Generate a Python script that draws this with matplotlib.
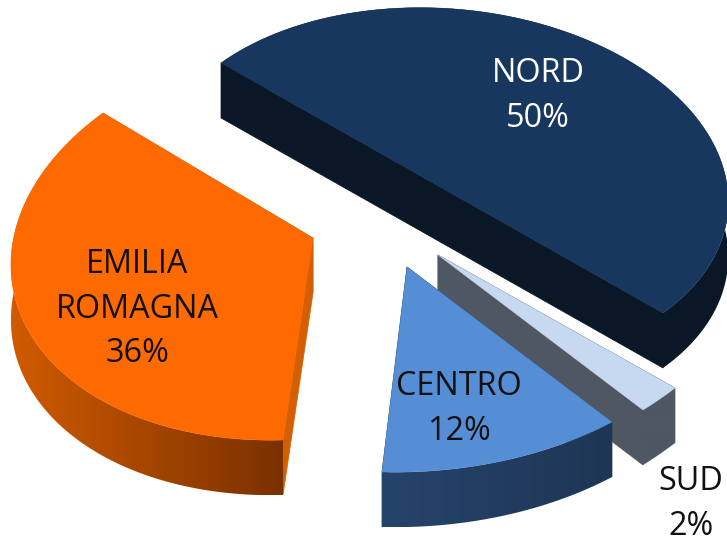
import numpy as np
import matplotlib
matplotlib.use("Agg")
import matplotlib.pyplot as plt
from matplotlib.colors import to_rgb
from matplotlib.patches import Polygon

# --- data -----------------------------------------------------------------
categories = ["NORD", "SUD", "CENTRO", "EMILIA\nROMAGNA"]
shares = [50, 2, 12, 36]

# --- style / layout (pixel geometry of each exploded slice) -----------------
W, H = 727, 545
DEPTH = 55
apex = [(442, 188), (438, 255), (407, 267), (313, 238)]
edge_start = [(-221, -125), (237, 133), (205, 155), (-30, 202)]
edge_end = [(221, 125), (205, 155), (-25, 205), (-210, -125)]
mid_half = (182, -130)  # conjugate radius, needed only by the half-disc slice
bulge = [0.0, 0.0, 0.0, 0.012]
top_col = ["#17375E", "#C6D9F1", "#558ED5", "#FF6A00"]
inner_col = ["#0A1726", "#4F5763", "#1F3555", "#D45F00"]
grad_left = ["#0A1726", "#4F5763", "#25446C", "#D05B00"]
grad_right = ["#0A1726", "#4F5763", "#1F3555", "#7A3000"]
text_col = ["white", "#111111", "#111111", "#111111"]
label_xy = [(538, 96), (691, 504), (459, 409), (137, 309)]

plt.rcParams["font.family"] = ["Open Sans", "DejaVu Sans"]
fig = plt.figure(figsize=(W / 100, H / 100), dpi=100)
ax = fig.add_axes([0, 0, 1, 1])


def arc(es, ee, span_deg, b):
    es, ee = np.array(es, float), np.array(ee, float)
    s = np.radians(span_deg)
    t = np.linspace(0, s, 200)[:, None]
    if abs(span_deg - 180) < 1e-6:
        p = es * np.cos(t) + np.array(mid_half, float) * np.sin(t)
    else:
        p = (es * np.sin(s - t) + ee * np.sin(t)) / np.sin(s)
    return p * (1 + b * np.sin(np.pi * t / s))


for i, share in enumerate(shares):
    c = np.array(apex[i], float)
    pts = c + arc(edge_start[i], edge_end[i], 360 * share / sum(shares), bulge[i])
    down = np.array([0, DEPTH])

    # straight cut faces
    for end in (pts[0], pts[-1]):
        ax.fill(*np.array([c, end, end + down, c + down]).T,
                color=inner_col[i], lw=0.5, zorder=i * 3 + 1)

    # outer wall: left-to-right gradient clipped to the extruded arc
    xmin, xmax = pts[:, 0].min(), pts[:, 0].max()
    ymin, ymax = pts[:, 1].min(), pts[:, 1].max() + DEPTH
    cl, cr = np.array(to_rgb(grad_left[i])), np.array(to_rgb(grad_right[i]))
    f = np.linspace(0, 1, 256)[None, :, None]
    im = ax.imshow(cl + (cr - cl) * f, extent=(xmin, xmax, ymax, ymin),
                   aspect="auto", interpolation="bilinear", zorder=i * 3 + 2)
    wall = Polygon(np.vstack([pts, (pts + down)[::-1]]), transform=ax.transData,
                   fc="none", ec="none")
    ax.add_patch(wall)
    im.set_clip_path(wall)

    # top surface
    ax.fill(*np.vstack([c, pts]).T, color=top_col[i], lw=0.3, zorder=i * 3 + 3)

    ax.text(*label_xy[i], f"{categories[i]}\n{share}%", color=text_col[i],
            ha="center", va="center", fontsize=23.3, linespacing=1.45, zorder=50)

ax.set_xlim(0, W)
ax.set_ylim(H, 0)
ax.axis("off")
fig.savefig("out.png", dpi=100)
